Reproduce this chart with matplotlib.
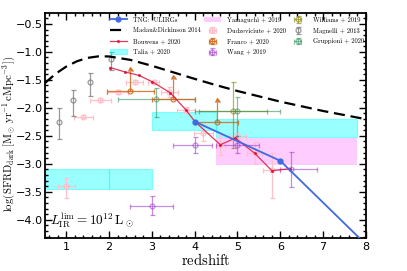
import matplotlib
matplotlib.use("Agg")
import matplotlib.pyplot as plt
from matplotlib.ticker import AutoMinorLocator, MultipleLocator
import numpy as np

plt.rcParams['mathtext.fontset'] = 'cm'

# ---- data ----
madau_z = [0.5, 0.75, 1.0, 1.25, 1.5, 1.75, 2.0, 2.5, 3.0, 3.5, 4.0, 4.5, 5.0, 6.0, 7.0, 8.0]
madau_y = [-1.560, -1.393, -1.263, -1.168, -1.107, -1.080, -1.081, -1.143, -1.248,
           -1.365, -1.482, -1.594, -1.699, -1.889, -2.056, -2.203]

tng_z = [4, 6, 8]
tng_y = [-2.245, -2.946, -4.44]

bouwens_z = [2.03, 2.38, 2.7, 3.0, 3.43, 3.8, 4.0, 4.6, 4.95, 5.4, 5.8, 6.23]
bouwens_y = [-1.28, -1.36, -1.42, -1.53, -1.73, -2.04, -2.24, -2.66, -2.54, -2.81, -3.12, -3.09]

talia_x0 = [0.0, 2.0, 3.0, 4.5]
talia_x1 = [2.0, 3.0, 4.5, 7.8]
talia_lo = [-3.45, -3.45, -2.40, -2.53]
talia_hi = [-3.10, -3.10, -2.07, -2.20]

yama_x0 = [4.5]
yama_x1 = [7.8]
yama_lo = [-3.02]
yama_hi = [-2.54]

dud_z = [1.0, 1.4, 1.8, 2.2, 2.6, 3.04, 3.41, 3.8, 4.2, 4.6, 5.0, 5.4, 5.8]
dud_y = [-3.40, -2.155, -1.86, -1.72, -1.54, -1.54, -1.72, -2.04, -2.45, -2.66, -2.50, -2.81, -3.11]
dud_xerr = [0.2, 0.22, 0.25, 0.25, 0.2, 0.13, 0.2, 0.22, 0.22, 0.1, 0.2, 0.18, 0.2]
dud_yerr_lo = [0.22, 0.03, 0.03, 0.03, 0.04, 0.04, 0.09, 0.06, 0.15, 0.18, 0.05, 0.2, 0.5]
dud_yerr_hi = [0.15, 0.03, 0.03, 0.03, 0.04, 0.04, 0.09, 0.06, 0.15, 0.18, 0.05, 0.2, 0.3]

franco_z = [2.5, 3.5, 4.52]
franco_y = [-1.70, -1.84, -2.245]
franco_xerr = [0.55, 0.5, 0.5]
franco_up = [0.35, 0.35, 0.35]

wang_z = [3.0, 4.0, 5.0, 6.25]
wang_y = [-3.75, -2.66, -2.66, -3.10]
wang_xerr_lo = [0.5, 0.5, 0.5, 0.25]
wang_xerr_hi = [0.5, 0.4, 0.5, 0.6]
wang_yerr = [0.17, 0.14, 0.15, 0.31]

williams_z = [4.9]
williams_y = [-2.05]
williams_xerr = [0.8]
williams_yerr_lo = [0.67]
williams_yerr_hi = [0.51]

magnelli_z = [0.83, 1.16, 1.55, 2.04]
magnelli_y = [-2.26, -1.86, -1.54, -1.12]
magnelli_yerr_lo = [0.30, 0.28, 0.24, 0.20]
magnelli_yerr_hi = [0.25, 0.17, 0.17, 0.12]

grupp_z = [3.1, 5.0]
grupp_y = [-1.84, -2.05]
grupp_xerr = [0.9, 1.0]
grupp_yerr_lo = [0.32, 0.45]
grupp_yerr_hi = [0.19, 0.24]

# ---- plot ----
fig = plt.figure(figsize=(4.07, 2.71), dpi=100)
ax = fig.add_axes([0.110, 0.121, 0.789, 0.830])

ebkw = dict(fmt='o', mfc='none', ms=3.5, capsize=1.8, elinewidth=0.9, capthick=0.9, mew=0.9)

h_tng, = ax.plot(tng_z, tng_y, '-o', color='royalblue', lw=1.3, ms=3.5, zorder=6,
                 label='TNG:  ULIRGs')
h_md, = ax.plot(madau_z, madau_y, '--', color='black', lw=1.6, dashes=(5, 2.6), zorder=5,
                label='Madau&Dickinson 2014')
h_bw, = ax.plot(bouwens_z, bouwens_y, '-', color='crimson', lw=0.9, marker='o', ms=1.2,
                alpha=0.85, zorder=5, label='Bouwens + 2020')

for i, (a, b, lo, hi) in enumerate(zip(talia_x0, talia_x1, talia_lo, talia_hi)):
    h_ta = ax.fill_between([a, b], [lo, lo], [hi, hi], color='cyan', alpha=0.4, lw=0.8,
                           edgecolor='cyan', zorder=1,
                           label='Talia + 2020' if i == 0 else None)
    if i == 0:
        h_ta0 = h_ta
for i, (a, b, lo, hi) in enumerate(zip(yama_x0, yama_x1, yama_lo, yama_hi)):
    h_ya = ax.fill_between([a, b], [lo, lo], [hi, hi], color='magenta', alpha=0.2, lw=0,
                           zorder=1, label='Yamaguchi + 2019' if i == 0 else None)

h_du = ax.errorbar(dud_z, dud_y, xerr=dud_xerr, yerr=[dud_yerr_lo, dud_yerr_hi],
                   color='pink', zorder=3, label='Dudzeviciute + 2020', **ebkw)
h_fr = ax.errorbar(franco_z, franco_y, xerr=franco_xerr, yerr=[[0]*3, franco_up],
                   lolims=True, color='chocolate', alpha=0.85, zorder=4,
                   label='Franco + 2020', **ebkw)
h_wa = ax.errorbar(wang_z, wang_y, xerr=[wang_xerr_lo, wang_xerr_hi], yerr=wang_yerr,
                   color='darkorchid', alpha=0.55, zorder=3, label='Wang + 2019', **ebkw)
h_wi = ax.errorbar(williams_z, williams_y, xerr=williams_xerr,
                   yerr=[williams_yerr_lo, williams_yerr_hi], color='olive', alpha=0.6,
                   zorder=3, label='Williams + 2019', **ebkw)
h_ma = ax.errorbar(magnelli_z, magnelli_y, yerr=[magnelli_yerr_lo, magnelli_yerr_hi],
                   color='gray', alpha=0.8, zorder=3, label='Magnelli + 2013', **ebkw)
h_gr = ax.errorbar(grupp_z, grupp_y, xerr=grupp_xerr, yerr=[grupp_yerr_lo, grupp_yerr_hi],
                   color='seagreen', alpha=0.55, zorder=3, label='Gruppioni + 2020', **ebkw)

ax.set_xlim(0.5, 8)
ax.set_ylim(-4.33, -0.31)
ax.xaxis.set_major_locator(MultipleLocator(1))
ax.xaxis.set_minor_locator(AutoMinorLocator())
ax.yaxis.set_major_locator(MultipleLocator(0.5))
ax.yaxis.set_minor_locator(AutoMinorLocator(5))
ax.tick_params(which='both', direction='in', top=True, right=True, labelsize=8, width=1.0)
ax.tick_params(which='major', length=5)
ax.tick_params(which='minor', length=2.5)
ax.tick_params(axis='y', pad=1.2)
ax.tick_params(axis='x', pad=2.5)
for s in ax.spines.values():
    s.set_linewidth(1.3)

ax.set_xlabel(r'$\rm redshift$', fontsize=10.5, labelpad=0)
fig.text(8.5 / 407, 0.507,
         r'$\log({\rm SFRD_{dark}}\,[{\rm M_\odot\,yr^{-1}\,cMpc^{-3}}])$',
         rotation=90, ha='center', va='center', fontsize=7.8)

ax.text(0.62, -4.09, r'$L_{\rm IR}^{\rm lim} = 10^{12}\,{\rm L}_\odot$', fontsize=9.5)

handles = [h_tng, h_md, h_bw, h_ta0, h_ya, h_du, h_fr, h_wa, h_wi, h_ma, h_gr]
ax.legend(handles=handles, ncol=3, loc='upper left', bbox_to_anchor=(0.203, 0.985),
          frameon=False, prop={'family': 'cmr10', 'size': 4.7}, handlelength=2.6,
          columnspacing=0.4, handletextpad=1.0, labelspacing=0.75, borderaxespad=0.0,
          borderpad=0.0)

fig.savefig('out.png', dpi=100)
